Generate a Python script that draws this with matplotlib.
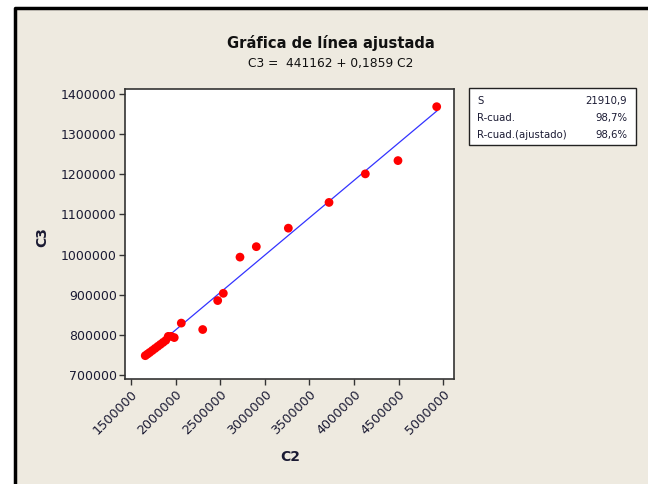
import matplotlib
matplotlib.use("Agg")
import matplotlib.pyplot as plt
from matplotlib.patches import Rectangle
from matplotlib.lines import Line2D
import numpy as np

# data
c2 = [1660000, 1685000, 1710000, 1740000, 1770000, 1800000, 1830000,
      1860000, 1890000, 1918000, 1950000, 1985000,
      2064000, 2304000, 2472000, 2535000, 2722000, 2905000, 3264000,
      3720000, 4127000, 4493000, 4927000]
c3 = [749000, 753000, 757000, 762000, 767000, 772000, 777000,
      782000, 787000, 797000, 797000, 794000,
      830000, 814000, 886000, 904000, 994000, 1020000, 1066000,
      1130000, 1201000, 1234000, 1368000]
intercept = 441162
slope = 0.1859
stats_names = ["S", "R-cuad.", "R-cuad.(ajustado)"]
stats_vals = ["21910,9", "98,7%", "98,6%"]

xticks = np.arange(1500000, 5000001, 500000)
yticks = np.arange(700000, 1400001, 100000)

bg = "#eeeae0"
txt = "#1a1a33"
plt.rcParams['font.family'] = ['DejaVu Sans']

fig = plt.figure(figsize=(6.48, 4.84), dpi=100)
fig.patch.set_facecolor("white")
W, H = 648.0, 484.0
fig.add_artist(Rectangle((15 / W, 0), 1 - 15 / W, 1 - 8 / H,
                         transform=fig.transFigure, facecolor=bg,
                         edgecolor="none", zorder=-5))
fig.add_artist(Line2D([15 / W, 15 / W, 1], [0, 1 - 8 / H, 1 - 8 / H],
                      transform=fig.transFigure, color="black", lw=2.5,
                      zorder=-4))

ax = fig.add_axes([125 / W, 1 - 379 / H, (454 - 125) / W, (379 - 89) / H])
ax.set_zorder(2)
ax.set_facecolor("white")

xs = np.array([min(c2), max(c2)])
ax.plot(xs, intercept + slope * xs, color="#3333ff", lw=0.9, zorder=2)
ax.scatter(c2, c3, s=40, color="#ff0000", edgecolors="none", zorder=3)

ax.set_xlim(1433000, 5121000)
ax.set_ylim(691000, 1412000)
ax.set_xticks(xticks)
ax.set_yticks(yticks)
ax.set_xticklabels([str(v) for v in xticks], rotation=45, ha="right",
                   rotation_mode="anchor", fontsize=9.2, color=txt)
ax.set_yticklabels([str(v) for v in yticks], fontsize=9, color=txt)
ax.tick_params(direction="out", length=4, width=1, color="#333333", pad=2)
for sp in ax.spines.values():
    sp.set_color("#333333")
    sp.set_linewidth(1.2)

ax.set_xlabel("C2", fontsize=10, fontweight="bold", color=txt)
ax.set_ylabel("C3", fontsize=10, fontweight="bold", color=txt)
ax.xaxis.set_label_coords((290 - 125) / (454 - 125), -(457 - 379) / (379 - 89))
ax.yaxis.set_label_coords(-(125 - 42) / (454 - 125), (379 - 237) / (379 - 89))
ax.xaxis.label.set_va("center")
ax.yaxis.label.set_va("center")

fig.text(331 / W, 1 - 43 / H, "Gráfica de línea ajustada", ha="center",
         va="center", fontsize=10.6, fontweight="bold", color="#111111")
fig.text(331 / W, 1 - 63 / H, "C3 =  441162 + 0,1859 C2", ha="center",
         va="center", fontsize=8.8, color="#111111")

# stats box
fig.add_artist(Rectangle((469 / W, 1 - 145 / H), (636 - 469) / W,
                         (145 - 88) / H, transform=fig.transFigure,
                         facecolor="white", edgecolor="#222222", lw=1))
rows_y = [101, 118, 135]
for name, val, y in zip(stats_names, stats_vals, rows_y):
    fig.text(477 / W, 1 - y / H, name, ha="left", va="center",
             fontsize=7.3, color=txt)
    fig.text(627 / W, 1 - y / H, val, ha="right", va="center",
             fontsize=7.3, color=txt)

fig.savefig("out.png", dpi=100, facecolor=fig.get_facecolor())
